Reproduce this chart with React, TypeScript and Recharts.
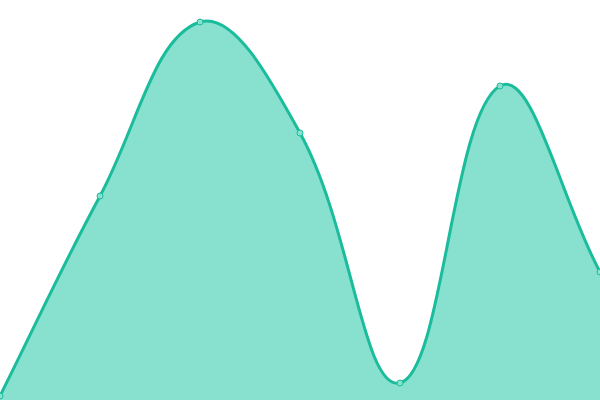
// @ts-nocheck
import React from 'react';
import { AreaChart, Area, XAxis, YAxis } from 'recharts';

const LABELS = ['A', 'B', 'C', 'D', 'E', 'F', 'G'];
const VALUES = [4, 204, 378, 267, 17, 314, 128];

const STROKE = '#1abc9c';
const FILL = '#88e0cf';
const TENSION = 0.4;
const WIDTH = 600;
const HEIGHT = 400;

const chartData = LABELS.map((name, i) => ({ name, value: VALUES[i] }));

const clamp = (v, lo, hi) => Math.max(lo, Math.min(hi, v));

// cardinal-style spline (control points from neighbour distances), capped to the plot box
function tensionCurve(context) {
  let pts = [];
  let line = NaN;

  const draw = () => {
    const n = pts.length;
    if (!n) return;
    if (line) context.lineTo(pts[0][0], pts[0][1]);
    else context.moveTo(pts[0][0], pts[0][1]);
    if (n === 1) return;

    const cpIn = [];
    const cpOut = [];
    for (let i = 0; i < n; i++) {
      const cur = pts[i];
      const prev = pts[i - 1] || cur;
      const next = pts[i + 1] || cur;
      const d01 = Math.hypot(cur[0] - prev[0], cur[1] - prev[1]);
      const d12 = Math.hypot(next[0] - cur[0], next[1] - cur[1]);
      let s01 = d01 / (d01 + d12);
      let s12 = d12 / (d01 + d12);
      if (isNaN(s01)) s01 = 0;
      if (isNaN(s12)) s12 = 0;
      const fa = TENSION * s01;
      const fb = TENSION * s12;
      const dx = next[0] - prev[0];
      const dy = next[1] - prev[1];
      cpIn.push([clamp(cur[0] - fa * dx, 0, WIDTH), clamp(cur[1] - fa * dy, 0, HEIGHT)]);
      cpOut.push([clamp(cur[0] + fb * dx, 0, WIDTH), clamp(cur[1] + fb * dy, 0, HEIGHT)]);
    }
    for (let i = 1; i < n; i++) {
      context.bezierCurveTo(cpOut[i - 1][0], cpOut[i - 1][1], cpIn[i][0], cpIn[i][1], pts[i][0], pts[i][1]);
    }
  };

  return {
    areaStart() { line = 0; },
    areaEnd() { line = NaN; },
    lineStart() { pts = []; },
    lineEnd() {
      draw();
      if (line || (line !== 0 && pts.length === 1)) context.closePath();
      line = 1 - line;
    },
    point(x, y) { pts.push([+x, +y]); },
  };
}

export default function App() {
  return (
    <div style={{ position: 'absolute', top: 0, left: 0, width: WIDTH, height: HEIGHT, background: '#fff' }}>
      <AreaChart width={WIDTH} height={HEIGHT} data={chartData} margin={{ top: 0, right: 0, bottom: 0, left: 0 }}>
        <XAxis dataKey="name" hide padding={{ left: 0, right: 0 }} />
        <YAxis hide domain={[0, 400]} />
        <Area
          type={tensionCurve}
          dataKey="value"
          stroke={STROKE}
          strokeWidth={3}
          fill={FILL}
          fillOpacity={1}
          dot={{ r: 3, fill: FILL, stroke: STROKE, strokeWidth: 1, fillOpacity: 1 }}
          activeDot={false}
          isAnimationActive={false}
        />
      </AreaChart>
    </div>
  );
}
